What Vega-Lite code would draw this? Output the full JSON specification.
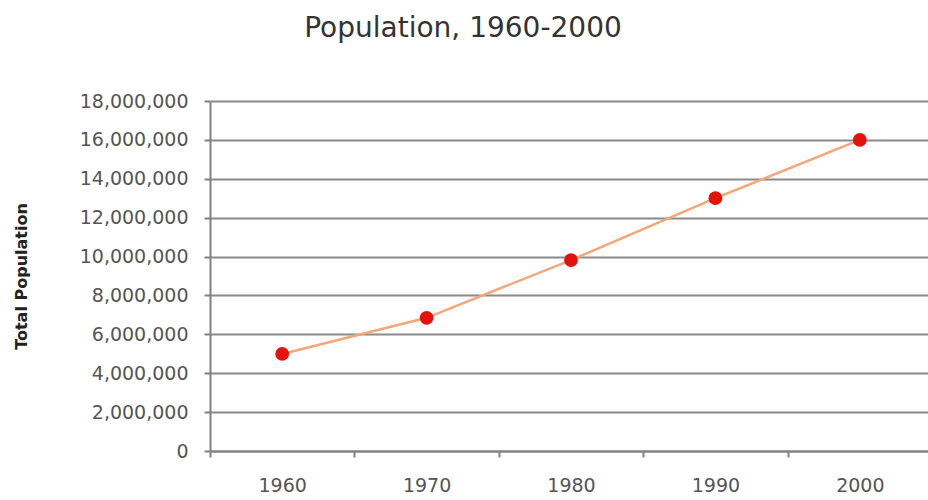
{
  "$schema": "https://vega.github.io/schema/vega-lite/v6.json",
  "autosize": "none",
  "padding": {"left": 210, "top": 101, "right": 0, "bottom": 49},
  "width": 718,
  "height": 350,
  "background": "white",
  "title": {
    "text": "Population, 1960-2000",
    "font": "DejaVu Sans",
    "fontSize": 28,
    "fontWeight": "normal",
    "color": "#333333",
    "anchor": "middle",
    "frame": "group",
    "dx": -106,
    "baseline": "alphabetic",
    "offset": 27
  },
  "config": {
    "view": {"stroke": null},
    "axis": {
      "labelFont": "DejaVu Sans",
      "labelColor": "#555555",
      "titleFont": "DejaVu Sans",
      "domainColor": "#808080",
      "domainWidth": 2,
      "tickColor": "#808080",
      "tickWidth": 2,
      "gridColor": "#8a8a8a",
      "gridWidth": 2
    }
  },
  "data": {
    "values": [
      {"year": "1960", "population": 4990000},
      {"year": "1970", "population": 6850000},
      {"year": "1980", "population": 9820000},
      {"year": "1990", "population": 13000000},
      {"year": "2000", "population": 16000000}
    ]
  },
  "encoding": {
    "x": {
      "field": "year",
      "type": "ordinal",
      "scale": {"type": "band", "paddingInner": 0, "paddingOuter": 0, "range": [0, 722]},
      "axis": {
        "title": null,
        "labelAngle": 0,
        "labelFontSize": 19,
        "tickBand": "extent",
        "tickSize": 6,
        "labelPadding": 19,
        "grid": false,
        "domain": true
      }
    },
    "y": {
      "field": "population",
      "type": "quantitative",
      "scale": {"domain": [0, 18000000], "nice": false},
      "axis": {
        "title": "Total Population",
        "titleFontSize": 16,
        "titleFontWeight": "bold",
        "titleColor": "#222222",
        "titlePadding": 50,
        "values": [0, 2000000, 4000000, 6000000, 8000000, 10000000, 12000000, 14000000, 16000000, 18000000],
        "format": ",d",
        "labelFontSize": 19,
        "tickSize": 6,
        "labelPadding": 16,
        "grid": true
      }
    }
  },
  "layer": [
    {
      "mark": {"type": "line", "color": "#f4a77a", "strokeWidth": 2.5}
    },
    {
      "mark": {"type": "point", "filled": true, "color": "#e3120b", "size": 190, "opacity": 1}
    }
  ]
}
